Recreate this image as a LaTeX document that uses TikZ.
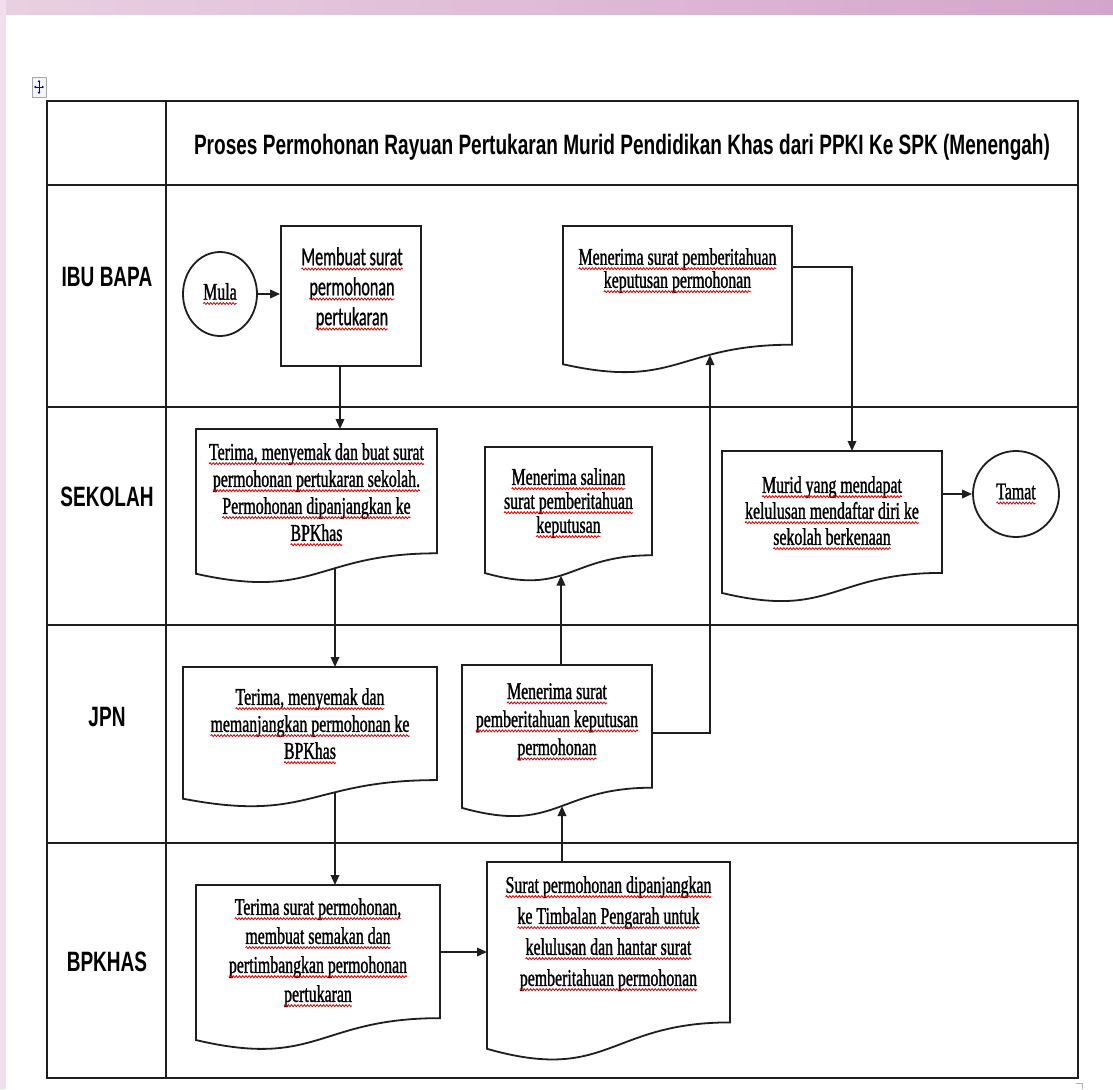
\documentclass[tikz,border=0pt]{standalone}
\usepackage{fontspec}
\usetikzlibrary{arrows.meta,calc,shapes.geometric,decorations.pathmorphing}
\newfontfamily\sansc[FakeStretch=0.68]{Liberation Sans}
\newfontfamily\serifc[FakeStretch=0.66,FakeBold=1.2]{Liberation Serif}
\newfontfamily\calic[FakeStretch=0.62,FakeBold=0.8]{Carlito}
\definecolor{ink}{RGB}{30,30,30}
\definecolor{pinkL}{RGB}{232,208,226}
\definecolor{pinkR}{RGB}{212,165,203}
\definecolor{pinkS}{RGB}{240,222,236}
\newcommand\sq[1]{\tikz[baseline=(sqw.base)]{%
  \node[shape=rectangle, inner sep=0pt, outer sep=0pt, draw=none, fill=none, anchor=base,
        minimum size=0pt, align=center] (sqw) at (0,0) {#1};
  \draw[red!85!black, line width=0.8pt, decorate, decoration={snake, amplitude=1pt, segment length=3.2pt}]
    ([yshift=-3.8pt]sqw.base west) -- ([yshift=-3.8pt]sqw.base east);}}
\newcommand\docshape[1]{%
  \filldraw[docline] (#1.north west) -- (#1.north east)
    -- ($(#1.north east)!0.802!(#1.south east)$)
    .. controls ($(#1.north)!0.802!(#1.south)$) and ($(#1.north)!1.1075!(#1.south)$)
    .. ($(#1.north west)!0.934!(#1.south west)$) -- cycle;}
\begin{document}
\begin{tikzpicture}[x=1pt,y=-1pt,
  tableline/.style={draw=ink, line width=2.5pt},
  divider/.style={draw=ink, line width=1.3pt},
  docline/.style={draw=ink, line width=1.8pt, fill=white},
  docbox/.style={inner sep=0pt, outer sep=0pt, draw=none, anchor=north west},
  dtext/.style={align=center, inner sep=0pt, anchor=north, font=\serifc\fontsize{24}{#1}\selectfont},
  dtext/.default=27,
  lanelbl/.style={font=\sansc\bfseries\fontsize{28}{30}\selectfont, inner sep=0pt},
  arr/.style={draw=ink, line width=1.8pt, -{Triangle[length=10pt,width=8.5pt]}}]
\useasboundingbox (0,0) rectangle (1113,1089);
% background
\fill[white] (0,0) rectangle (1113,1089);
\shade[left color=pinkL, right color=pinkR] (0,0) rectangle (1113,15);
\fill[pinkS] (0,0) rectangle (6,1089);
% move handle
\node[draw=gray!70, fill=gray!8, minimum width=14pt, minimum height=20pt, inner sep=0pt] (handle) at (39,87) {};
\draw[blue!70!black, line width=0.6pt, {Triangle[length=2pt,width=2.5pt]}-{Triangle[length=2pt,width=2.5pt]}] ($(handle.center)+(-5,0)$) -- ($(handle.center)+(5,0)$);
\draw[blue!70!black, line width=0.6pt, {Triangle[length=2pt,width=2.5pt]}-{Triangle[length=2pt,width=2.5pt]}] ($(handle.center)+(0,-7)$) -- ($(handle.center)+(0,7)$);
\draw[gray!60, line width=0.6pt] (1076,1083) -- (1082,1083) -- (1082,1089);
% table
\draw[tableline] (47,101) rectangle (1078,1078);
\foreach \yy in {185,407,625,843} \draw[tableline] (47,\yy) -- (1078,\yy);
\draw[divider] (166,101) -- (166,1078);
% header and lane labels
\node[lanelbl] (title) at (622,147) {Proses Permohonan Rayuan Pertukaran Murid Pendidikan Khas dari PPKI Ke SPK (Menengah)};
\node[lanelbl] (lblibu) at (107,277) {IBU BAPA};
\node[lanelbl] (lblsek) at (107,497) {SEKOLAH};
\node[lanelbl] (lbljpn) at (107,717) {JPN};
\node[lanelbl] (lblbpk) at (107,962) {BPKHAS};
% nodes
\node[ellipse, draw=ink, line width=1.8pt, minimum width=74pt, minimum height=84pt, inner sep=0pt,
      font=\serifc\fontsize{24}{26}\selectfont] (mula) at (220,294) {\sq{Mula}};
\node[draw=ink, line width=1.8pt, minimum width=140pt, minimum height=140pt, inner sep=0pt] (membuat) at (351,296) {};
\node[align=center, inner sep=0pt, anchor=north, font=\calic\fontsize{26}{30}\selectfont] (membuatt) at (352,247)
  {\sq{Membuat surat}\\\sq{permohonan}\\\sq{pertukaran}};
\node[circle, draw=ink, line width=1.8pt, minimum size=86pt, inner sep=0pt,
      font=\serifc\fontsize{24}{26}\selectfont] (tamat) at (1016,494) {\sq{Tamat}};
\node[docbox, minimum width=229pt, minimum height=148pt] (d3) at (563,226) {};
\node[docbox, minimum width=241pt, minimum height=155pt] (d4) at (196,429) {};
\node[docbox, minimum width=167pt, minimum height=135pt] (d5) at (485,447) {};
\node[docbox, minimum width=220pt, minimum height=152pt] (d6) at (722,451) {};
\node[docbox, minimum width=254pt, minimum height=141pt] (d7) at (183,667) {};
\node[docbox, minimum width=190pt, minimum height=153pt] (d8) at (462,665) {};
\node[docbox, minimum width=244pt, minimum height=166pt] (d9) at (196,885) {};
\node[docbox, minimum width=243pt, minimum height=200pt] (d10) at (487,862) {};
% connector x positions
\coordinate (xb) at (340,0);
\coordinate (xc) at (335,0);
\coordinate (xf) at (562,0);
\coordinate (xg) at (561,0);
\coordinate (xh) at (710,0);
\coordinate (xi) at (852,0);
% connectors
\draw[arr] (mula.east) -- (mula.east -| membuat.west);
\draw[arr] (membuat.south -| xb) -- (d4.north -| xb);
\draw[arr] (d4.center -| xc) -- (d7.north -| xc);
\draw[arr] (d7.center -| xc) -- (d9.north -| xc);
\draw[arr] ([yshift=16pt]d9.east) -- ([yshift=16pt]d9.east -| d10.west);
\draw[arr] (d10.center -| xf) -- ([yshift=12pt]d8.south -| xf);
\draw[arr] (d8.center -| xg) -- ([yshift=6.5pt]d5.south -| xg);
\draw[arr] ([yshift=8.5pt]d8.east) -| ([yshift=19pt]d3.south -| xh);
\draw[arr] ([yshift=33pt]d3.east) -| (d6.north -| xi);
\draw[arr] (tamat.west -| d6.east) -- (tamat.west);
% document shapes
\docshape{d3}\docshape{d4}\docshape{d5}\docshape{d6}
\docshape{d7}\docshape{d8}\docshape{d9}\docshape{d10}
% texts
\node[dtext=23] (t3) at (d3.north |- 0,248) {\sq{Menerima surat pemberitahuan}\\\sq{keputusan permohonan}};
\node[dtext=27] (t4) at (d4.north |- 0,443) {\sq{Terima, menyemak dan buat surat}\\\sq{permohonan pertukaran sekolah.}\\\sq{Permohonan dipanjangkan ke}\\\sq{BPKhas}};
\node[dtext=24] (t5) at (d5.north |- 0,468) {\sq{Menerima salinan}\\\sq{surat pemberitahuan}\\\sq{keputusan}};
\node[dtext=26] (t6) at (d6.north |- 0,476) {\sq{Murid yang mendapat}\\\sq{kelulusan mendaftar diri ke}\\\sq{sekolah berkenaan}};
\node[dtext=27] (t7) at (d7.north |- 0,688) {\sq{Terima, menyemak dan}\\\sq{memanjangkan permohonan ke}\\\sq{BPKhas}};
\node[dtext=28] (t8) at (d8.north |- 0,683) {\sq{Menerima surat}\\\sq{pemberitahuan keputusan}\\\sq{permohonan}};
\node[dtext=29] (t9) at (d9.north |- 0,898) {\sq{Terima surat permohonan,}\\\sq{membuat semakan dan}\\\sq{pertimbangkan permohonan}\\\sq{pertukaran}};
\node[dtext=31] (t10) at (d10.north |- 0,876) {\sq{Surat permohonan dipanjangkan}\\\sq{ke Timbalan Pengarah untuk}\\\sq{kelulusan dan hantar surat}\\\sq{pemberitahuan permohonan}};
\end{tikzpicture}
\end{document}
